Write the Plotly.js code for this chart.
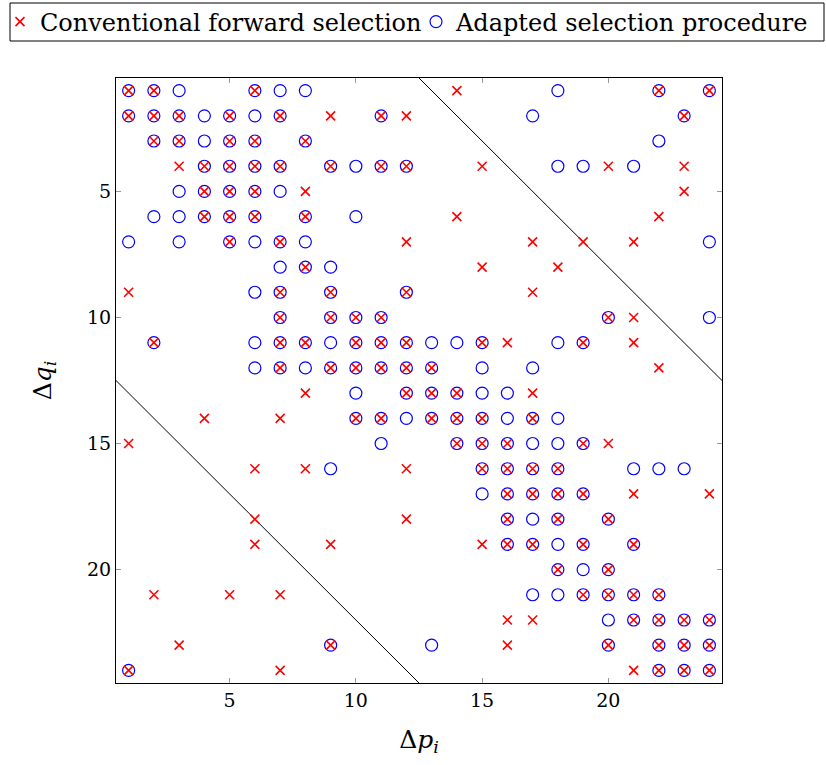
<!DOCTYPE html>
<html>
<head>
<meta charset="utf-8">
<script src="https://cdn.plot.ly/plotly-3.0.1.min.js"></script>
<style>html,body{margin:0;padding:0;background:#fff;}#chart{width:826px;height:765px;}</style>
</head>
<body>
<div id="chart"></div>
<script>
// Row q = 1..24: list of Δp values where a marker appears
const conventionalRows = [
  [1,2,6,14,22,24],
  [1,2,3,5,7,9,11,12,23],
  [2,3,5,6,8],
  [3,4,5,6,7,9,11,12,15,20,23],
  [4,5,6,8,23],
  [4,5,6,8,14,22],
  [5,7,12,17,19,21],
  [8,15,18],
  [1,7,9,12,17],
  [7,9,10,11,20,21],
  [2,7,8,10,11,12,15,16,19,21],
  [7,9,10,11,12,13,22],
  [8,12,13,14,17],
  [4,7,10,11,13,14,15,17],
  [1,14,15,16,19,20],
  [6,8,12,15,16,17,18],
  [16,17,18,19,21,24],
  [6,12,16,18,20],
  [6,9,15,16,17,19,21],
  [18,20],
  [2,5,7,19,20,21,22],
  [16,17,21,22,23,24],
  [3,9,16,20,22,23,24],
  [1,7,21,22,23,24]
];
const adaptedRows = [
  [1,2,3,6,7,8,18,22,24],
  [1,2,3,4,5,6,7,11,17,23],
  [2,3,4,5,6,8,22],
  [4,5,6,7,9,10,11,12,18,19,21],
  [3,4,5,6,7],
  [2,3,4,5,6,8,10],
  [1,3,5,6,7,8,24],
  [7,8,9],
  [6,7,9,12],
  [7,9,10,11,20,24],
  [2,6,7,8,9,10,11,12,13,14,15,18,19],
  [6,7,8,9,10,11,12,13,15,17],
  [10,12,13,14,15,16],
  [10,11,12,13,14,15,16,17,18],
  [11,14,15,16,17,18,19],
  [9,15,16,17,18,21,22,23],
  [15,16,17,18,19],
  [16,17,18,20],
  [16,17,18,19,21],
  [18,19,20],
  [17,18,19,20,21,22],
  [20,21,22,23,24],
  [9,13,20,22,23,24],
  [1,22,23,24]
];
// Boundary lines
const upperLineP = [12.5, 24.5];
const upperLineQ = [0.5, 12.5];
const lowerLineP = [0.5, 12.5];
const lowerLineQ = [12.5, 24.5];
const tickVals = [5, 10, 15, 20];
const seriesNames = ['Conventional forward selection', 'Adapted selection procedure'];

function flatten(rows){
  const x = [], y = [];
  rows.forEach((r, i) => r.forEach(p => { x.push(p); y.push(i + 1); }));
  return {x, y};
}
const conv = flatten(conventionalRows);
const adap = flatten(adaptedRows);

const font = 'DejaVu Serif, serif';
const traces = [
  {x: upperLineP, y: upperLineQ, mode: 'lines', line: {color: '#000', width: 1}, showlegend: false, hoverinfo: 'skip'},
  {x: lowerLineP, y: lowerLineQ, mode: 'lines', line: {color: '#000', width: 1}, showlegend: false, hoverinfo: 'skip'},
  {x: adap.x, y: adap.y, mode: 'markers', name: seriesNames[1], legend: 'legend2',
   marker: {symbol: 'circle-open', size: 12, color: '#0000ff', line: {width: 1.2, color: '#0000ff'}}},
  {x: conv.x, y: conv.y, mode: 'markers', name: seriesNames[0], legend: 'legend',
   marker: {symbol: 'x-thin', size: 9, color: '#ff0000', line: {width: 1.6, color: '#ff0000'}}}
];

const axisCommon = {
  showgrid: false, zeroline: false, showline: true, linecolor: '#000', linewidth: 1,
  mirror: 'ticks', ticks: 'inside', ticklen: 5, tickcolor: '#999', tickwidth: 1,
  tickvals: tickVals, tickfont: {family: font, size: 19, color: '#000'}
};

// plot area: 116..722 px wide, 78..683 px high
const px = v => (v - 116) / 606;
const py = v => 1 + (78 - v) / 605;

const legendCommon = {orientation: 'h', xanchor: 'left', yanchor: 'middle', y: py(22),
  borderwidth: 0, font: {family: font, size: 24, color: '#000'}, itemwidth: 30, bgcolor: 'rgba(0,0,0,0)'};

const layout = {
  width: 826, height: 765,
  margin: {l: 116, r: 104, t: 78, b: 82, autoexpand: false},
  paper_bgcolor: '#fff', plot_bgcolor: '#fff',
  font: {family: font, color: '#000'},
  xaxis: Object.assign({}, axisCommon, {range: [0.5, 24.5],
    title: {text: 'Δ<i>p</i><sub><i>i</i></sub>', font: {family: font, size: 25}, standoff: 20}}),
  yaxis: Object.assign({}, axisCommon, {range: [24.5, 0.5],
    title: {text: 'Δ<i>q</i><sub><i>i</i></sub>', font: {family: font, size: 25}, standoff: 28}}),
  legend: Object.assign({}, legendCommon, {x: px(0)}),
  legend2: Object.assign({}, legendCommon, {x: px(416)}),
  shapes: [{type: 'rect', xref: 'paper', yref: 'paper', x0: px(10), x1: px(824), y0: py(41), y1: py(3),
    line: {color: '#000', width: 1}, fillcolor: 'rgba(0,0,0,0)', layer: 'above'}],
  showlegend: true
};

Plotly.newPlot('chart', traces, layout, {staticPlot: true, displayModeBar: false});
</script>
</body>
</html>
